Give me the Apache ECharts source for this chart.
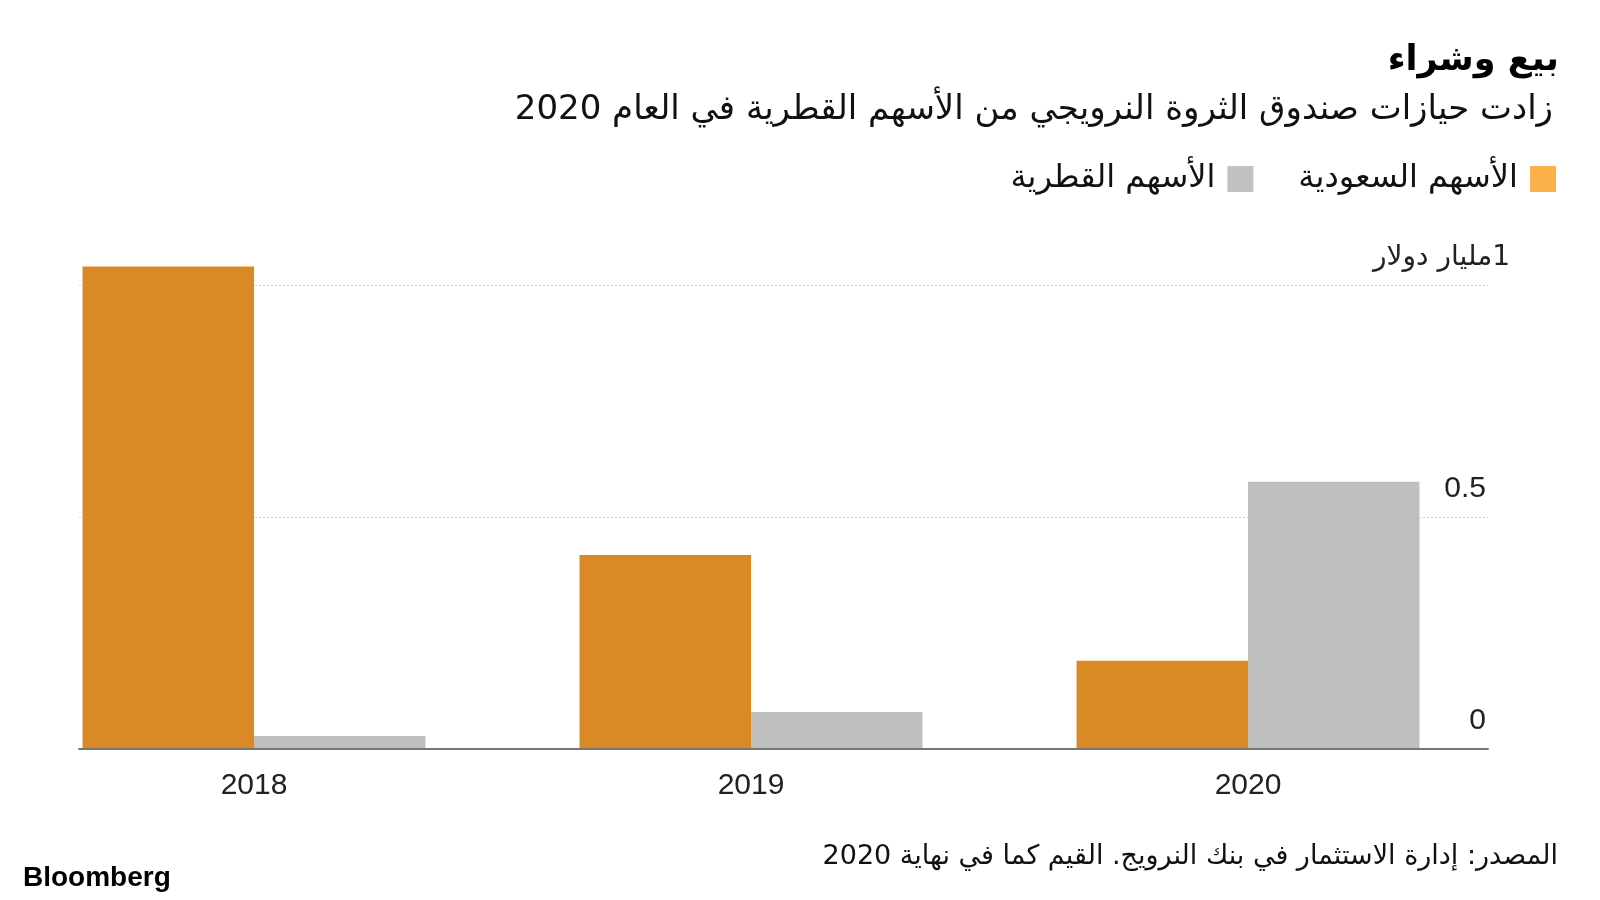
<!DOCTYPE html>
<html lang="ar">
<head>
    <meta charset="UTF-8">
    <title>بيع وشراء</title>
    <script type="text/javascript" src="https://cdn.jsdelivr.net/npm/echarts@6/dist/echarts.min.js"></script>
    <style>
        html, body { margin: 0; padding: 0; background: #fff; }
        #main { width: 1600px; height: 900px; }
    </style>
</head>
<body>
<div id="main"></div>
<script type="text/javascript">
var years = ['2018', '2019', '2020'];
var saudi = [1.04, 0.418, 0.19];
var qatari = [0.028, 0.08, 0.576];
var seriesNames = ['الأسهم السعودية', 'الأسهم القطرية'];

var arabicFont = '"DejaVu Sans", "Noto Sans", sans-serif';
var numFont = '"Liberation Sans", Arial, sans-serif';

var myChart = echarts.init(document.getElementById('main'));
var option = {
    backgroundColor: '#fff',
    animation: false,
    title: [
        {
            text: 'بيع وشراء',
            right: 36, top: 38,
            textStyle: { fontFamily: arabicFont, fontSize: 35, fontWeight: 'bold', color: '#000' }
        },
        {
            text: 'زادت حيازات صندوق الثروة النرويجي من الأسهم القطرية في العام 2020',
            right: 42, top: 88,
            textStyle: { fontFamily: arabicFont, fontSize: 34, fontWeight: 'normal', color: '#111' }
        },
        {
            text: 'المصدر: إدارة الاستثمار في بنك النرويج. القيم كما في نهاية 2020',
            right: 37, top: 838,
            textStyle: { fontFamily: arabicFont, fontSize: 27, fontWeight: 'normal', color: '#111' }
        },
        {
            text: 'Bloomberg',
            left: 18, top: 859,
            textStyle: { fontFamily: numFont, fontSize: 28, fontWeight: 'bold', color: '#000' }
        }
    ],
    legend: {
        right: 39, top: 158,
        align: 'right',
        icon: 'rect',
        itemWidth: 26, itemHeight: 26,
        itemGap: 45,
        textStyle: { fontFamily: arabicFont, fontSize: 32, color: '#111', padding: [0, 7, 0, 0] },
        data: [
            { name: seriesNames[1], itemStyle: { color: '#c2c2c2' } },
            { name: seriesNames[0], itemStyle: { color: '#fbb04a' } }
        ]
    },
    grid: [
        { left: 79, right: 112, top: 53, bottom: 151 },
        { left: 5.5, right: 103.5, top: 53, bottom: 151 }
    ],
    xAxis: [
        {
            gridIndex: 0, type: 'value', min: 0, max: 1, z: 5,
            axisLine: { show: true, lineStyle: { color: '#777', width: 2 } },
            axisTick: { show: false }, axisLabel: { show: false }, splitLine: { show: false }
        },
        {
            gridIndex: 1, type: 'category', data: years,
            axisLine: { show: false }, axisTick: { show: false },
            axisLabel: { fontFamily: numFont, fontSize: 30, color: '#222', margin: 22 }
        }
    ],
    yAxis: [
        {
            gridIndex: 0, type: 'value', position: 'right',
            min: 0, max: 1.5, interval: 0.5,
            axisLine: { show: false }, axisTick: { show: false },
            splitLine: {
                show: true, showMinLine: false, showMaxLine: false,
                lineStyle: { color: '#d4d4d4', type: [2, 2], width: 1 }
            },
            axisLabel: {
                showMaxLabel: false,
                align: 'right', verticalAlign: 'bottom', margin: 22,
                formatter: function (v) {
                    if (v === 1) return '{u|مليار دولار\u200E1}';
                    return '{n|' + v + '}';
                },
                rich: {
                    n: { fontFamily: numFont, fontSize: 30, color: '#222', padding: [0, 24, 13, 0] },
                    u: { fontFamily: arabicFont, fontSize: 28, color: '#222', padding: [0, 0, 13, 0] }
                }
            }
        },
        { gridIndex: 1, type: 'value', min: 0, max: 1.5, show: false }
    ],
    series: [
        {
            name: seriesNames[0], type: 'bar', xAxisIndex: 1, yAxisIndex: 1,
            data: saudi, barGap: 0, barCategoryGap: '31%',
            itemStyle: { color: '#da8a24' }
        },
        {
            name: seriesNames[1], type: 'bar', xAxisIndex: 1, yAxisIndex: 1,
            data: qatari, barGap: 0, barCategoryGap: '31%',
            itemStyle: { color: '#bfbfbf' }
        }
    ]
};
myChart.setOption(option);
</script>
</body>
</html>
